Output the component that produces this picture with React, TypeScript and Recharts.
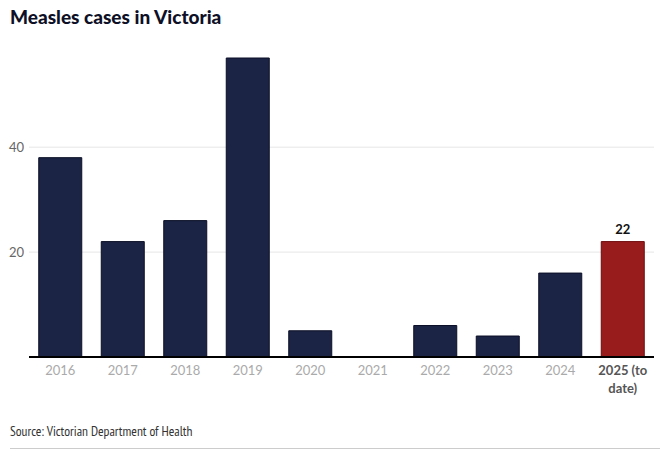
import { BarChart, Bar, XAxis, YAxis, CartesianGrid, Cell, LabelList } from 'recharts';

const years = ['2016', '2017', '2018', '2019', '2020', '2021', '2022', '2023', '2024', '2025 (to date)'];
const cases = [38, 22, 26, 57, 5, 0, 6, 4, 16, 22];
const labels = ['', '', '', '', '', '', '', '', '', '22'];
const yTicks = [20, 40];

const NAVY = '#1c2445';
const RED = '#991c1d';
const FONT = 'Lato, "Open Sans", sans-serif';

const data = years.map((year, i) => ({ year, cases: cases[i], label: labels[i] }));

const XTick = (props: any) => {
  const { x, y, payload, index } = props;
  const last = index === years.length - 1;
  if (last) {
    const [a, b] = ['2025 (to', 'date)'];
    return (
      <text x={x} y={y} textAnchor="middle" fontFamily={FONT} fontSize={13} fontWeight={700} fill="#555">
        <tspan x={x} dy={13}>{a}</tspan>
        <tspan x={x} dy={18}>{b}</tspan>
      </text>
    );
  }
  return (
    <text x={x} y={y} dy={13} textAnchor="middle" fontFamily={FONT} fontSize={13} fill="#aaa">
      {payload.value}
    </text>
  );
};

export default function App() {
  return (
    <div style={{ position: 'absolute', left: 0, top: 0, width: 670, height: 452, background: '#fff' }}>
      <div
        style={{
          position: 'absolute',
          left: 10,
          top: 5,
          fontFamily: FONT,
          fontWeight: 900,
          fontSize: 19,
          color: '#0d1026',
        }}
      >
        Measles cases in Victoria
      </div>
      <BarChart
        width={670}
        height={400}
        data={data}
        margin={{ top: 58, right: 16, left: 0, bottom: 3 }}
        barCategoryGap="15.6%"
      >
        <CartesianGrid vertical={false} stroke="#e6e6e6" horizontalValues={yTicks} />
        <XAxis
          dataKey="year"
          interval={0}
          height={40}
          tickLine={false}
          tickSize={3}
          tickMargin={2}
          axisLine={{ stroke: '#000', strokeWidth: 2 }}
          tick={<XTick />}
        />
        <YAxis
          width={29}
          domain={[0, 57]}
          ticks={yTicks}
          axisLine={false}
          tickLine={false}
          tickSize={3}
          tickMargin={2}
          tick={{ fontFamily: FONT, fontSize: 13, fill: '#666' }}
        />
        <Bar dataKey="cases" isAnimationActive={false}>
          {data.map((d, i) => (
            <Cell
              key={d.year}
              fill={i === data.length - 1 ? RED : NAVY}
              stroke={i === data.length - 1 ? '#6e0b0b' : '#0b0f26'}
              strokeWidth={1}
            />
          ))}
          <LabelList
            dataKey="label"
            position="top"
            offset={8}
            style={{ fontFamily: FONT, fontSize: 13, fontWeight: 700, fill: '#111' }}
          />
        </Bar>
      </BarChart>
      <div
        style={{
          position: 'absolute',
          left: 10,
          top: 422,
          fontFamily: '"PT Sans Narrow", "Liberation Sans Narrow", sans-serif',
          fontSize: 13.5,
          color: '#333',
        }}
      >
        Source: Victorian Department of Health
      </div>
      <div style={{ position: 'absolute', left: 10, top: 448, width: 650, height: 1, background: '#ccc' }} />
    </div>
  );
}
